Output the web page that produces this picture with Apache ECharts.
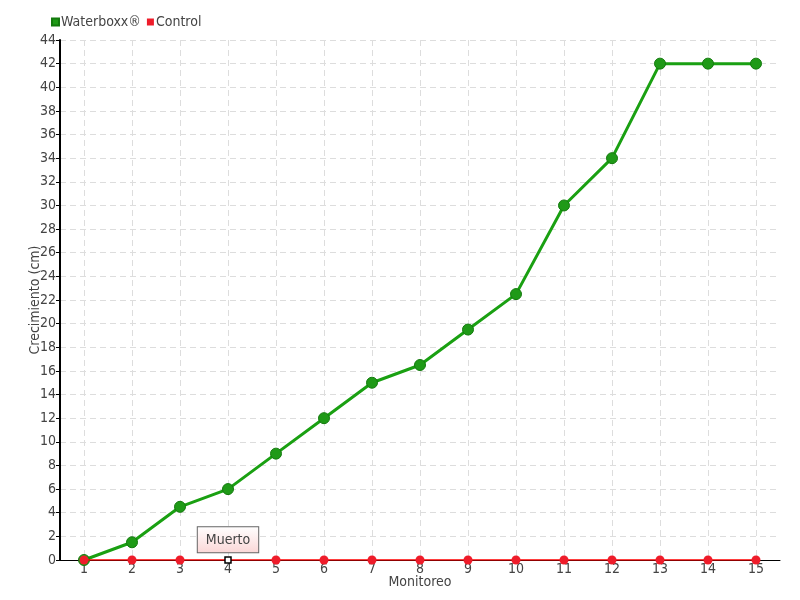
<!DOCTYPE html>
<html>
<head>
<meta charset="utf-8">
<script src="https://cdn.jsdelivr.net/npm/echarts@6/dist/echarts.min.js"></script>
<style>
  html, body { margin: 0; padding: 0; background: #fff; }
  #chart { width: 800px; height: 600px; }
</style>
</head>
<body>
<div id="chart"></div>
<script>
// datos
var monitoreos = ["1", "2", "3", "4", "5", "6", "7", "8", "9", "10", "11", "12", "13", "14", "15"];
var waterboxx = [0, 1.5, 4.5, 6, 9, 12, 15, 16.5, 19.5, 22.5, 30, 34, 42, 42, 42];
var control = [0, 0, 0, 0, 0, 0, 0, 0, 0, 0, 0, 0, 0, 0, 0];
var muertoIdx = 3; // monitoreo 4

var fuente = "'DejaVu Sans Condensed', 'Liberation Sans', sans-serif";

var controlData = control.map(function (v, i) {
  if (i !== muertoIdx) return v;
  return {
    value: v,
    symbol: "rect",
    symbolSize: 6,
    itemStyle: { color: "#fff", borderColor: "#000", borderWidth: 1.5 },
    label: {
      show: true,
      position: "top",
      distance: 4,
      formatter: "Muerto",
      color: "#444",
      fontSize: 14,
      fontFamily: fuente,
      padding: [6, 8, 5, 8],
      borderColor: "#666",
      borderWidth: 1,
      backgroundColor: {
        type: "linear", x: 0, y: 0, x2: 0, y2: 1,
        colorStops: [{ offset: 0, color: "#fff" }, { offset: 1, color: "#fbd6d6" }]
      }
    }
  };
});

var chart = echarts.init(document.getElementById("chart"), null, { renderer: "canvas" });

chart.setOption({
  animation: false,
  textStyle: { fontFamily: fuente },
  legend: {
    left: 46,
    top: 10,
    itemWidth: 7,
    itemHeight: 7,
    itemGap: 6,
    textStyle: { fontSize: 14, color: "#444", fontFamily: fuente, padding: [0, 0, 0, -3] },
    data: [
      { name: "Waterboxx®", icon: "rect" },
      { name: "Control", icon: "rect" }
    ]
  },
  grid: { left: 60, right: 20, top: 40, bottom: 40, outerBoundsMode: "none" },
  xAxis: {
    type: "category",
    data: monitoreos,
    name: "Monitoreo",
    nameLocation: "middle",
    nameGap: 15,
    nameMoveOverlap: false,
    nameTextStyle: { fontSize: 14, color: "#444", fontFamily: fuente },
    axisLine: { lineStyle: { color: "#000", width: 1 } },
    axisTick: { show: false, alignWithLabel: true },
    axisLabel: { fontSize: 14, color: "#444", margin: 2, fontFamily: fuente },
    splitLine: { show: true, interval: 0, alignWithLabel: true, lineStyle: { color: "#ddd", type: [6, 4] } }
  },
  yAxis: {
    type: "value",
    min: 0,
    max: 44,
    interval: 2,
    name: "Crecimiento (cm)",
    nameLocation: "middle",
    nameGap: 18,
    nameMoveOverlap: false,
    nameTextStyle: { fontSize: 14, color: "#444", fontFamily: fuente },
    axisLine: { show: true, lineStyle: { color: "#000", width: 2 } },
    axisTick: { show: true, length: 4, lineStyle: { color: "#000" } },
    axisLabel: { fontSize: 14, color: "#444", margin: 4, fontFamily: fuente },
    splitLine: { show: true, lineStyle: { color: "#ddd", type: [6, 4] } }
  },
  series: [
    {
      name: "Waterboxx®",
      type: "line",
      data: waterboxx,
      color: "#1aa012",
      symbol: "circle",
      symbolSize: 11,
      lineStyle: { color: "#1aa012", width: 3 },
      itemStyle: { color: "#1f9a17", borderColor: "#137a0d", borderWidth: 1 },
      z: 2
    },
    {
      name: "Control",
      type: "line",
      data: controlData,
      color: "#ff0a24",
      symbol: "circle",
      symbolSize: 9,
      lineStyle: { color: "#ff0000", width: 1.5 },
      itemStyle: { color: "#ee1c2a", borderColor: "#ee1c2a", borderWidth: 0 },
      z: 3
    }
  ]
});
</script>
</body>
</html>
